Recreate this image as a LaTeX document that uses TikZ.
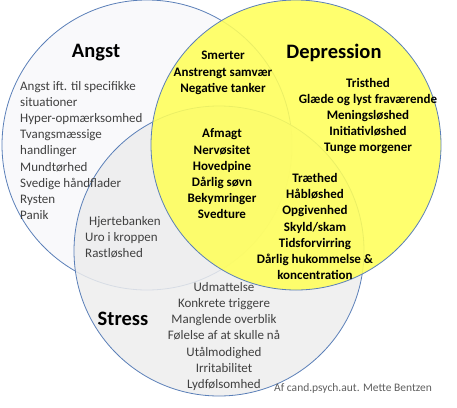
\documentclass[tikz,border=0pt]{standalone}
\usepackage{fontspec}
\setmainfont{Carlito}
\usepackage{xcolor}
\usetikzlibrary{positioning}

\definecolor{ringblue}{HTML}{5A7FB8}
\definecolor{angstfill}{HTML}{F9F9FB}
\definecolor{stressfill}{HTML}{EDEDED}
\definecolor{depfill}{HTML}{FFFF5A}
\definecolor{darktext}{HTML}{404040}
\definecolor{credittext}{HTML}{5F5F5F}

\tikzset{
  plain/.style={font=\fontsize{13}{16.2}\selectfont, text=darktext, inner sep=0pt},
  strong/.style={font=\bfseries\fontsize{13}{16.2}\selectfont, text=black, inner sep=0pt, align=center},
  title/.style={font=\bfseries\fontsize{20.5}{24}\selectfont, text=black, inner sep=0pt},
  ring/.style={draw=ringblue, line width=0.8pt}
}

\begin{document}
\begin{tikzpicture}[x=1pt,y=-1pt]
    \useasboundingbox (0,0) rectangle (457,407);

    % Angst circle
    \filldraw[ring, fill=angstfill] (147,145) circle (145pt);
    % Stress circle
    \filldraw[ring, fill=stressfill, fill opacity=0.85] (219,251) circle (145pt);
    % Depression circle
    \filldraw[ring, fill=depfill, fill opacity=0.88] (296,145) circle (145pt);

    % Titles
    \node[title] (angst) at (96,53) {Angst};
    \node[title] (depression) at (334,53) {Depression};
    \node[title] (stress) at (123,319) {Stress};

    % Angst only
    \node[plain, align=left, anchor=west] (angstlist) at (20,150.5)
        {Angst ift. til specifikke\\situationer\\Hyper-opmærksomhed\\Tvangsmæssige\\handlinger\\Mundtørhed\\Svedige håndflader\\Rysten\\Panik};

    % Angst and Depression
    \node[strong] (angstdep) at (223,73) {Smerter\\Anstrengt samvær\\Negative tanker};

    % Depression only
    \node[strong] (deplist) at (368,116) {Tristhed\\Glæde og lyst fraværende\\Meningsløshed\\Initiativløshed\\Tunge morgener};

    % All three
    \node[strong] (common) at (222,174) {Afmagt\\Nervøsitet\\Hovedpine\\Dårlig søvn\\Bekymringer\\Svedture};

    % Depression and Stress
    \node[strong] (depstress) at (315,226.5) {Træthed\\Håbløshed\\Opgivenhed\\Skyld/skam\\Tidsforvirring\\Dårlig hukommelse \&\\koncentration};

    % Angst and Stress
    \node[plain, align=left, anchor=west] (angststress) at (85,237.5)
        {\hspace*{4pt}Hjertebanken\\Uro i kroppen\\Rastløshed};

    % Stress only
    \node[plain, align=center] (stresslist) at (224,336.5)
        {Udmattelse\\Konkrete triggere\\Manglende overblik\\Følelse af at skulle nå\\Utålmodighed\\Irritabilitet\\Lydfølsomhed};

    % Credit
    \node[font=\fontsize{11.5}{13}\selectfont, text=credittext, inner sep=0pt, anchor=west] (credit) at (274,388)
        {Af cand.psych.aut. Mette Bentzen};
\end{tikzpicture}
\end{document}
